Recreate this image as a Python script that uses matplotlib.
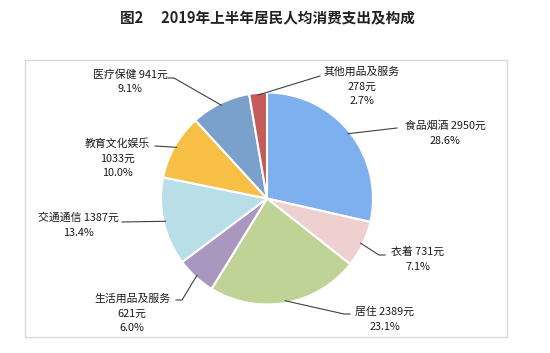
import numpy as np
import matplotlib.pyplot as plt
from matplotlib.patches import Rectangle

plt.rcParams['font.family'] = ['Noto Sans CJK SC', 'DejaVu Sans']

# ====== DATA ================================================================
categories = ['食品烟酒', '衣着', '居住', '生活用品及服务',
              '交通通信', '教育文化娱乐', '医疗保健', '其他用品及服务']
values = [2950, 731, 2389, 621, 1387, 1033, 941, 278]
shares = [28.6, 7.1, 23.1, 6.0, 13.4, 10.0, 9.1, 2.7]
colors = ['#7EB0F0', '#EFD0D1', '#C0D396', '#A997C0',
          '#B8DEE8', '#F7BF45', '#7AA0CC', '#C55B5B']
# label text split into lines, per category
label_lines = [
    ['食品烟酒 {v}元', '{p}%'],
    ['衣着 {v}元', '{p}%'],
    ['居住 {v}元', '{p}%'],
    ['生活用品及服务', '{v}元', '{p}%'],
    ['交通通信 {v}元', '{p}%'],
    ['教育文化娱乐', '{v}元', '{p}%'],
    ['医疗保健 {v}元', '{p}%'],
    ['其他用品及服务', '{v}元', '{p}%'],
]
# ============================================================================

W, H = 550, 353
fig = plt.figure(figsize=(W / 100, H / 100), dpi=100)
ax = fig.add_axes([0, 0, 1, 1])

def py(y):
    # pixel row (from top) -> data y
    return H - y

cx, cy, r = 267, py(198.5), 106
wedges, _ = ax.pie(values, colors=colors, startangle=90, counterclock=False,
                   center=(cx, cy), radius=r, frame=True,
                   wedgeprops=dict(edgecolor='white', linewidth=1.5))

ax.set_xlim(0, W)
ax.set_ylim(0, H)
ax.set_aspect('equal')
ax.axis('off')

# frame
ax.add_patch(Rectangle((25, py(337)), 482, 277, fill=False,
                       edgecolor='#D9D9D9', linewidth=1))

# title
ax.text(267, py(18), '图2\u3000 2019年上半年居民人均消费支出及构成',
        ha='center', va='center', fontsize=10.5, fontweight='bold',
        color='#222222')

# label anchor (text centre, first line) and leader end in pixels
label_pos = [(445, 126), (418, 252), (385, 312), (132, 299),
             (78, 218), (117, 144), (130, 75), (362, 72)]
leader_end = [(397, 128), (385, 255), (350, 314), (176, 300),
              (122, 222), (155, 146), (168, 78), (320, 76)]
# short horizontal piece at the label end (+ goes right)
elbow = [0, -6, -6, 6, 0, 0, 6, 0]

for w, lines, (lx, ly), (ex, ey), el, v, p in zip(
        wedges, label_lines, label_pos, leader_end, elbow, values, shares):
    ang = np.deg2rad((w.theta1 + w.theta2) / 2)
    sx = cx + r * 0.98 * np.cos(ang)
    sy = cy + r * 0.98 * np.sin(ang)
    ax.plot([sx, ex + el, ex], [sy, py(ey), py(ey)],
            color='#404040', linewidth=0.8)
    for i, line in enumerate(lines):
        ax.text(lx, py(ly + i * 14.5), line.format(v=v, p=f'{p:.1f}'),
                ha='center', va='center', fontsize=7.8, color='#1a1a1a')

fig.savefig('out.png', dpi=100, facecolor='white')
